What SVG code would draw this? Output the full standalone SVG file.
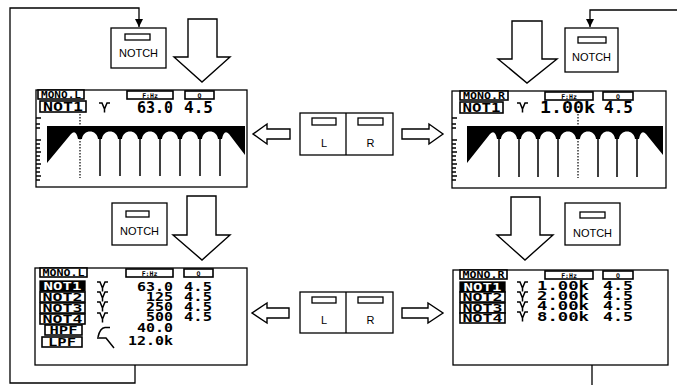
<svg xmlns="http://www.w3.org/2000/svg" width="677" height="385" viewBox="0 0 677 385">
<style>
.ln{fill:none;stroke:#000;stroke-width:1.3}
.box{fill:#fff;stroke:#000;stroke-width:1.3}
.hb{fill:#fff;stroke:#000;stroke-width:1.6}
.inv{fill:#000;stroke:#000;stroke-width:1.3}
.big{fill:#fff;stroke:#000;stroke-width:1.4;stroke-linejoin:miter}
.lbl{font-family:"Liberation Sans",Arial,sans-serif;font-size:11px;fill:#000}
.lcd{font-family:"DejaVu Sans Mono","Liberation Mono",monospace;font-weight:bold;fill:#000}
.w{fill:#fff}
.sym{fill:none;stroke:#000;stroke-width:1.5}
.dot{fill:none;stroke:#000;stroke-width:1.2;stroke-dasharray:1.5,1.5}
.band{fill:#000}
</style>
<defs>
<marker id="ah" viewBox="0 0 10 10" refX="10" refY="5" markerWidth="10" markerHeight="8" markerUnits="userSpaceOnUse" orient="auto">
<path d="M0,0 L10,5 L0,10 Z" fill="#000"/>
</marker>
</defs>

<g id="connectors">
<path class="ln" d="M135,365 V383 H10 V8 H139 V27" marker-end="url(#ah)"/>
<path class="ln" d="M592,365 V392 H690 V10 H590 V27" marker-end="url(#ah)"/>
<path class="big" d="M188,19 H217 V57 H230 L202,82 L174,57 H188 Z"/>
<path class="big" d="M512,21 H542 V59 H557 L527,83 L498,59 H512 Z"/>
<path class="big" d="M187,196 H216 V235 H230 L202,260 L173,235 H187 Z"/>
<path class="big" d="M511,197 H540 V235 H553 L525,260 L497,235 H511 Z"/>
<path class="big" d="M290,129 H267 V124 L253,134 L267,144 V139 H290 Z"/>
<path class="big" d="M402,129 H429 V124 L443,134 L429,144 V139 H402 Z"/>
<path class="big" d="M289,308 H267 V303 L252,313 L267,323 V318 H289 Z"/>
<path class="big" d="M402,308 H428 V303 L443,313 L428,323 V318 H402 Z"/>
</g>

<g id="notch-tl">
<rect class="box" x="111" y="28" width="55" height="40"/>
<rect class="box" x="125" y="34" width="25" height="6"/>
<text class="lbl" x="138.5" y="57" text-anchor="middle">NOTCH</text>
</g>
<g id="notch-tr">
<rect class="box" x="565" y="28" width="53" height="44"/>
<rect class="box" x="578" y="37" width="28" height="6"/>
<text class="lbl" x="591.5" y="61" text-anchor="middle">NOTCH</text>
</g>
<g id="notch-bl">
<rect class="box" x="112" y="203" width="55" height="42"/>
<rect class="box" x="126" y="211" width="23" height="6"/>
<text class="lbl" x="139.5" y="235" text-anchor="middle">NOTCH</text>
</g>
<g id="notch-br">
<rect class="box" x="565" y="203" width="55" height="42"/>
<rect class="box" x="580" y="212" width="25" height="6"/>
<text class="lbl" x="592.5" y="237" text-anchor="middle">NOTCH</text>
</g>

<g id="lr-top">
<rect class="box" x="300" y="113" width="93" height="42"/>
<path class="ln" d="M346,113 V155"/>
<rect class="box" x="312" y="118" width="24" height="7"/>
<rect class="box" x="358" y="118" width="25" height="7"/>
<text class="lbl" x="324" y="147" text-anchor="middle">L</text>
<text class="lbl" x="370.5" y="147" text-anchor="middle">R</text>
</g>
<g id="lr-bottom">
<rect class="box" x="300" y="292" width="93" height="41"/>
<path class="ln" d="M346,292 V333"/>
<rect class="box" x="312" y="297" width="24" height="6"/>
<rect class="box" x="358" y="297" width="25" height="6"/>
<text class="lbl" x="324" y="324" text-anchor="middle">L</text>
<text class="lbl" x="370.5" y="324" text-anchor="middle">R</text>
</g>

<g id="screen-tl">
<rect class="box" x="36" y="90" width="211" height="97"/>
<rect class="hb" x="38" y="90" width="46" height="9"/>
<text class="lcd" x="61" y="98" font-size="9" text-anchor="middle" textLength="40" lengthAdjust="spacingAndGlyphs">MONO.L</text>
<rect class="hb" x="127" y="91" width="46" height="8"/>
<text class="lcd" x="150" y="97.5" font-size="6.5" text-anchor="middle">F:Hz</text>
<rect class="hb" x="185" y="91" width="29" height="8"/>
<text class="lcd" x="199.5" y="97.5" font-size="6.5" text-anchor="middle">Q</text>
<rect class="hb" x="40" y="101" width="46" height="11"/>
<text class="lcd" x="63" y="111" font-size="12" text-anchor="middle" textLength="40" lengthAdjust="spacingAndGlyphs">NOT1</text>
<path class="sym" d="M99,103 H102 L104.5,109 L107,103 H110 M104.5,109 V112.5"/>
<text class="lcd" x="137" y="113" font-size="15" textLength="36" lengthAdjust="spacingAndGlyphs">63.0</text>
<text class="lcd" x="184" y="113" font-size="15" textLength="29" lengthAdjust="spacingAndGlyphs">4.5</text>
<path class="ln" d="M36,118 h5 M36,124 h4 M36,128 h4 M36,140 h5 M36,144 h4 M36,148 h4 M36,152 h5 M36,156 h4 M36,160 h4 M36,164 h5 M36,168 h4 M36,172 h4 M36,176 h5 M36,180 h4"/>
<path class="band" d="M47,126 H245 V155 L229,134 Q224,129 222,139 H218 C217,129 203,129 202,139 H198 C197,129 183,129 182,139 H178 C177,129 163,129 162,139 H158 C157,129 143,129 142,139 H138 C137,129 123,129 122,139 H118 C117,129 103,129 102,139 H98 C97,129 83,129 82,139 H78 Q76,129 71,134 L47,163 Z"/>
<path class="sym" d="M100,139 V176 M120,139 V176 M140,139 V176 M160,139 V176 M180,139 V176 M200,139 V176 M220,139 V176"/>
<path class="dot" d="M80,114 V178"/>
</g>

<g id="screen-tr">
<rect class="box" x="452" y="91" width="214" height="97"/>
<rect class="hb" x="460" y="91" width="48" height="9"/>
<text class="lcd" x="484" y="99" font-size="9" text-anchor="middle" textLength="42" lengthAdjust="spacingAndGlyphs">MONO.R</text>
<rect class="hb" x="545" y="92" width="48" height="8"/>
<text class="lcd" x="569" y="98.5" font-size="6.5" text-anchor="middle">F:Hz</text>
<rect class="hb" x="603" y="92" width="30" height="8"/>
<text class="lcd" x="618" y="98.5" font-size="6.5" text-anchor="middle">Q</text>
<rect class="hb" x="460" y="102" width="43" height="11"/>
<text class="lcd" x="481.5" y="112" font-size="12" text-anchor="middle" textLength="38" lengthAdjust="spacingAndGlyphs">NOT1</text>
<path class="sym" d="M517,103 H520 L522.5,109 L525,103 H528 M522.5,109 V112.5"/>
<text class="lcd" x="540" y="113" font-size="15" textLength="55" lengthAdjust="spacingAndGlyphs">1.00k</text>
<text class="lcd" x="604" y="113" font-size="15" textLength="29" lengthAdjust="spacingAndGlyphs">4.5</text>
<path class="ln" d="M452,118 h5 M452,124 h4 M452,128 h4 M452,140 h5 M452,144 h4 M452,148 h4 M452,152 h5 M452,156 h4 M452,160 h4 M452,164 h5 M452,168 h4 M452,172 h4 M452,176 h5 M452,180 h4"/>
<path class="band" d="M467,126 H663 V155 L646,134 Q641,129 639,139 H635 C634,129 620,129 619,139 H615 C614,129 601,129 600,139 H596 C595,129 581,129 580,139 H576 C575,129 561,129 560,139 H556 C555,129 541,129 540,139 H536 C535,129 522,129 521,139 H517 C516,129 502,129 501,139 H497 Q495,129 490,134 L467,163 Z"/>
<path class="sym" d="M499,139 V177 M519,139 V177 M538,139 V177 M558,139 V177 M598,139 V177 M617,139 V177 M637,139 V177"/>
<path class="dot" d="M578,114 V178"/>
</g>

<g id="screen-bl">
<rect class="box" x="35" y="268" width="212" height="97"/>
<rect class="hb" x="40" y="268" width="47" height="9"/>
<text class="lcd" x="63.5" y="276" font-size="9" text-anchor="middle" textLength="42" lengthAdjust="spacingAndGlyphs">MONO.L</text>
<rect class="hb" x="126" y="269" width="47" height="8"/>
<text class="lcd" x="149.5" y="275.5" font-size="6.5" text-anchor="middle">F:Hz</text>
<rect class="hb" x="184" y="269" width="29" height="8"/>
<text class="lcd" x="198.5" y="275.5" font-size="6.5" text-anchor="middle">Q</text>
<rect class="inv" x="40" y="281" width="45" height="10"/>
<text class="lcd w" x="62.5" y="289.5" font-size="10.5" text-anchor="middle" textLength="38" lengthAdjust="spacingAndGlyphs">NOT1</text>
<rect class="hb" x="40" y="292" width="45" height="10"/>
<text class="lcd" x="62.5" y="300.5" font-size="10.5" text-anchor="middle" textLength="40" lengthAdjust="spacingAndGlyphs">NOT2</text>
<rect class="hb" x="40" y="303" width="45" height="10"/>
<text class="lcd" x="62.5" y="311.5" font-size="10.5" text-anchor="middle" textLength="40" lengthAdjust="spacingAndGlyphs">NOT3</text>
<rect class="hb" x="40" y="314" width="45" height="10"/>
<text class="lcd" x="62.5" y="322.5" font-size="10.5" text-anchor="middle" textLength="40" lengthAdjust="spacingAndGlyphs">NOT4</text>
<rect class="hb" x="45" y="325" width="37" height="10"/>
<text class="lcd" x="63.5" y="333.5" font-size="10.5" text-anchor="middle" textLength="28" lengthAdjust="spacingAndGlyphs">HPF</text>
<rect class="hb" x="42" y="337" width="40" height="10"/>
<text class="lcd" x="62" y="345.5" font-size="10.5" text-anchor="middle" textLength="28" lengthAdjust="spacingAndGlyphs">LPF</text>
<path class="sym" d="M97,282 H100 L102.5,288 L105,282 H108 M102.5,288 V291.5 M97,292 H100 L102.5,298 L105,292 H108 M102.5,298 V301.5 M97,302 H100 L102.5,308 L105,302 H108 M102.5,308 V311.5 M97,313 H100 L102.5,319 L105,313 H108 M102.5,319 V322.5"/>
<path class="sym" d="M98,337 Q100,328 105,327.5 H110"/>
<path class="sym" d="M97,338 H106 L114,348"/>
<text class="lcd" x="173" y="291" font-size="12" text-anchor="end" textLength="36" lengthAdjust="spacingAndGlyphs">63.0</text>
<text class="lcd" x="173" y="300.5" font-size="12" text-anchor="end" textLength="27" lengthAdjust="spacingAndGlyphs">125</text>
<text class="lcd" x="173" y="310.5" font-size="12" text-anchor="end" textLength="27" lengthAdjust="spacingAndGlyphs">250</text>
<text class="lcd" x="173" y="321" font-size="12" text-anchor="end" textLength="27" lengthAdjust="spacingAndGlyphs">500</text>
<text class="lcd" x="173" y="332" font-size="12" text-anchor="end" textLength="36" lengthAdjust="spacingAndGlyphs">40.0</text>
<text class="lcd" x="173" y="345" font-size="12" text-anchor="end" textLength="45" lengthAdjust="spacingAndGlyphs">12.0k</text>
<text class="lcd" x="184" y="291" font-size="12" textLength="28" lengthAdjust="spacingAndGlyphs">4.5</text>
<text class="lcd" x="184" y="300.5" font-size="12" textLength="28" lengthAdjust="spacingAndGlyphs">4.5</text>
<text class="lcd" x="184" y="310.5" font-size="12" textLength="28" lengthAdjust="spacingAndGlyphs">4.5</text>
<text class="lcd" x="184" y="321" font-size="12" textLength="28" lengthAdjust="spacingAndGlyphs">4.5</text>
</g>

<g id="screen-br">
<rect class="box" x="453" y="270" width="215" height="95"/>
<rect class="hb" x="460" y="270" width="47" height="9"/>
<text class="lcd" x="483.5" y="278" font-size="9" text-anchor="middle" textLength="42" lengthAdjust="spacingAndGlyphs">MONO.R</text>
<rect class="hb" x="545" y="271" width="48" height="8"/>
<text class="lcd" x="569" y="277.5" font-size="6.5" text-anchor="middle">F:Hz</text>
<rect class="hb" x="603" y="271" width="30" height="8"/>
<text class="lcd" x="618" y="277.5" font-size="6.5" text-anchor="middle">Q</text>
<rect class="inv" x="460" y="282" width="45" height="10"/>
<text class="lcd w" x="482.5" y="290.5" font-size="10.5" text-anchor="middle" textLength="38" lengthAdjust="spacingAndGlyphs">NOT1</text>
<rect class="hb" x="460" y="292" width="45" height="10"/>
<text class="lcd" x="482.5" y="300.5" font-size="10.5" text-anchor="middle" textLength="40" lengthAdjust="spacingAndGlyphs">NOT2</text>
<rect class="hb" x="460" y="303" width="45" height="10"/>
<text class="lcd" x="482.5" y="311.5" font-size="10.5" text-anchor="middle" textLength="40" lengthAdjust="spacingAndGlyphs">NOT3</text>
<rect class="hb" x="460" y="313" width="45" height="10"/>
<text class="lcd" x="482.5" y="321.5" font-size="10.5" text-anchor="middle" textLength="40" lengthAdjust="spacingAndGlyphs">NOT4</text>
<path class="sym" d="M517,282 H520 L522.5,288 L525,282 H528 M522.5,288 V291.5 M517,292 H520 L522.5,298 L525,292 H528 M522.5,298 V301.5 M517,302 H520 L522.5,308 L525,302 H528 M522.5,308 V311.5 M517,312 H520 L522.5,318 L525,312 H528 M522.5,318 V321.5"/>
<text class="lcd" x="537" y="290" font-size="12" textLength="52" lengthAdjust="spacingAndGlyphs">1.00k</text>
<text class="lcd" x="537" y="300" font-size="12" textLength="52" lengthAdjust="spacingAndGlyphs">2.00k</text>
<text class="lcd" x="537" y="310" font-size="12" textLength="52" lengthAdjust="spacingAndGlyphs">4.00k</text>
<text class="lcd" x="537" y="321" font-size="12" textLength="52" lengthAdjust="spacingAndGlyphs">8.00k</text>
<text class="lcd" x="603" y="290" font-size="12" textLength="30" lengthAdjust="spacingAndGlyphs">4.5</text>
<text class="lcd" x="603" y="300" font-size="12" textLength="30" lengthAdjust="spacingAndGlyphs">4.5</text>
<text class="lcd" x="603" y="310" font-size="12" textLength="30" lengthAdjust="spacingAndGlyphs">4.5</text>
<text class="lcd" x="603" y="321" font-size="12" textLength="30" lengthAdjust="spacingAndGlyphs">4.5</text>
</g>
</svg>
